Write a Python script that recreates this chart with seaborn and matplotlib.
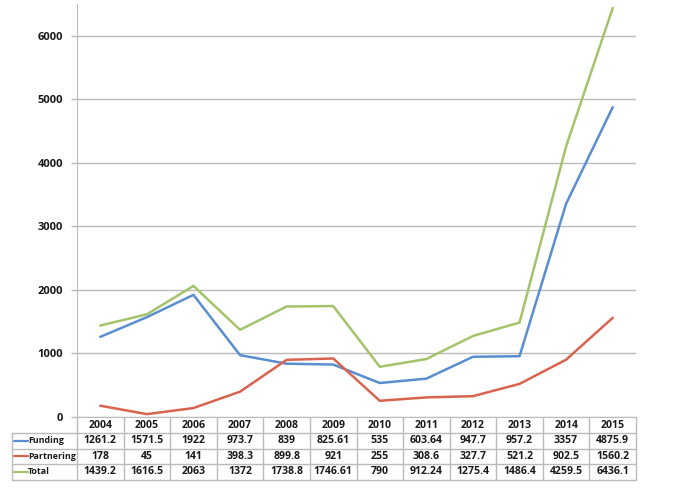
import matplotlib
matplotlib.use("Agg")
import matplotlib.pyplot as plt
import matplotlib.transforms as mtransforms
import seaborn as sns
import pandas as pd

years = ["2004", "2005", "2006", "2007", "2008", "2009", "2010", "2011", "2012", "2013", "2014", "2015"]
funding = [1261.2, 1571.5, 1922, 973.7, 839, 825.61, 535, 603.64, 947.7, 957.2, 3357, 4875.9]
partnering = [178, 45, 141, 398.3, 899.8, 921, 255, 308.6, 327.7, 521.2, 902.5, 1560.2]
total = [1439.2, 1616.5, 2063, 1372, 1738.8, 1746.61, 790, 912.24, 1275.4, 1486.4, 4259.5, 6436.1]
funding_txt = ["1261.2", "1571.5", "1922", "973.7", "839", "825.61", "535", "603.64", "947.7", "957.2", "3357", "4875.9"]
partnering_txt = ["178", "45", "141", "398.3", "899.8", "921", "255", "308.6", "327.7", "521.2", "902.5", "1560.2"]
total_txt = ["1439.2", "1616.5", "2063", "1372", "1738.8", "1746.61", "790", "912.24", "1275.4", "1486.4", "4259.5", "6436.1"]
series_names = ["Funding", "Partnering", "Total"]
colors = ["#5A8ED0", "#D8644F", "#A4C36A"]

sns.set_style("white")
plt.rcParams["font.family"] = ["Open Sans", "DejaVu Sans"]

rows = []
for name, vals in zip(series_names, [funding, partnering, total]):
    for i, v in enumerate(vals):
        rows.append({"idx": i, "value": v, "series": name})
df = pd.DataFrame(rows)

W, H = 697, 503
fig = plt.figure(figsize=(W / 100, H / 100), dpi=100)
def fy(p):
    return 1 - p / H
ax = fig.add_axes([77 / W, fy(417), (636 - 77) / W, (417 - 4) / H])

sns.lineplot(data=df, x="idx", y="value", hue="series", hue_order=series_names,
             palette=colors, linewidth=1.8, ax=ax, legend=False)

FS = 7.6
LFS = 6.4
TC = "#1a1a1a"
ax.set_xlim(-0.5, 11.5)
ax.set_ylim(0, 6500)
ax.set_yticks(range(0, 7000, 1000))
ax.set_yticklabels([str(v) for v in range(0, 7000, 1000)], fontsize=8, fontweight="bold", color=TC)
ax.set_xticks([])
ax.set_xlabel("")
ax.set_ylabel("")
ax.yaxis.grid(True, color="#BBBBBB", linewidth=1)
ax.set_axisbelow(True)
for s in ["top", "right"]:
    ax.spines[s].set_visible(False)
ax.spines["left"].set_color("#BBBBBB")
ax.spines["bottom"].set_color("#BBBBBB")
ax.tick_params(axis="y", length=4, color="#BBBBBB", pad=6, width=1, left=True)

# table
tr = mtransforms.blended_transform_factory(ax.transData, fig.transFigure)
trf = fig.transFigure
gc = "#BBBBBB"
top, hb = 417, 433
rh = 15.5
row_y = [hb + k * rh for k in range(4)]
bottom = row_y[-1]
for i in range(13):
    x = i - 0.5
    ax.plot([x, x], [fy(top), fy(bottom)], transform=tr, color=gc, lw=1, clip_on=False)
ax.plot([12 / W, 12 / W], [fy(hb), fy(bottom)], transform=trf, color=gc, lw=1, clip_on=False)
for yy in row_y:
    ax.plot([12 / W, 636 / W], [fy(yy), fy(yy)], transform=trf, color=gc, lw=1, clip_on=False)
for i, yr in enumerate(years):
    ax.text(i, fy((top + hb) / 2 + 0.5), yr, transform=tr, ha="center", va="center",
            fontsize=FS, fontweight="bold", color=TC)
for r, (name, txts, c) in enumerate(zip(series_names, [funding_txt, partnering_txt, total_txt], colors)):
    yc = fy(row_y[r] + rh / 2)
    ax.plot([14 / W, 28 / W], [yc, yc], transform=trf, color=c, lw=1.6, clip_on=False)
    ax.text(28 / W, yc, name, transform=trf, ha="left", va="center",
            fontsize=LFS, fontweight="bold", color=TC)
    for i, t in enumerate(txts):
        ax.text(i, yc, t, transform=tr, ha="center", va="center",
                fontsize=FS, fontweight="bold", color=TC)

fig.savefig("out.png", dpi=100)
